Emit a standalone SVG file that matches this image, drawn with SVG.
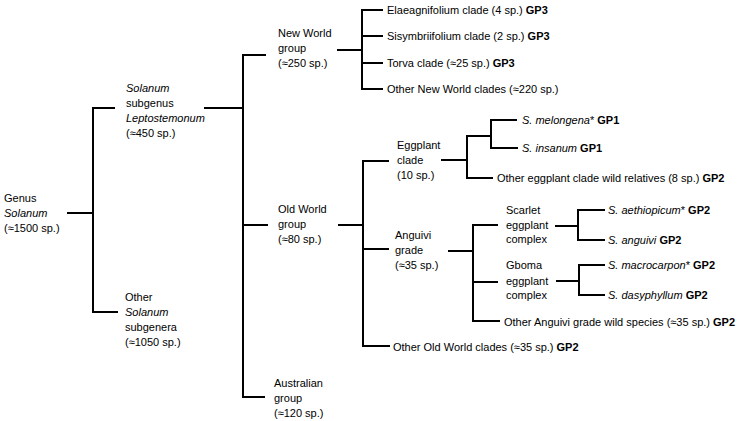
<svg xmlns="http://www.w3.org/2000/svg" width="743" height="421" viewBox="0 0 743 421">
<style>
text{font-family:"Liberation Sans",Arial,sans-serif;font-size:11px;fill:#000}
.i{font-style:italic}
.b{font-weight:bold}
.c{fill:none;stroke:#000;stroke-width:2}
</style>
<rect width="743" height="421" fill="#fff"/>
<g id="connectors" class="c">
<path d="M67 213H93M115 108H93V312H118"/>
<path d="M204 108H243M266 55H243V397H265M243 225H268"/>
<path d="M337 50H362M383 10H362V89H383M362 36H383M362 63H383"/>
<path d="M338 225H363M389 161H363V346H390M363 249H389"/>
<path d="M441 160H467M491 136H467V178H493M517 120H491V148H518"/>
<path d="M448 251H473M498 225H473V321H500M473 282H498"/>
<path d="M555 226H578M605 210H578V240H605"/>
<path d="M556 281H579M605 265H579V295H605"/>
</g>
<g id="genus"><text x="4" y="202">Genus</text><text x="4" y="217" class="i">Solanum</text><text x="4" y="232">(≈1500 sp.)</text></g>
<g id="leptostemonum"><text x="126" y="92" class="i">Solanum</text><text x="126" y="107">subgenus</text><text x="126" y="122" class="i">Leptostemonum</text><text x="126" y="137">(≈450 sp.)</text></g>
<g id="other-subgenera"><text x="125" y="301">Other</text><text x="125" y="316" class="i">Solanum</text><text x="125" y="331">subgenera</text><text x="125" y="346">(≈1050 sp.)</text></g>
<g id="new-world"><text x="278" y="37">New World</text><text x="278" y="52">group</text><text x="278" y="67">(≈250 sp.)</text></g>
<g id="old-world"><text x="278" y="213">Old World</text><text x="278" y="228">group</text><text x="278" y="243">(≈80 sp.)</text></g>
<g id="australian"><text x="274" y="387">Australian</text><text x="274" y="402">group</text><text x="274" y="417">(≈120 sp.)</text></g>
<g id="elaeagnifolium"><text x="387" y="14">Elaeagnifolium clade (4 sp.) <tspan class="b">GP3</tspan></text></g>
<g id="sisymbriifolium"><text x="387" y="40">Sisymbriifolium clade (2 sp.) <tspan class="b">GP3</tspan></text></g>
<g id="torva"><text x="387" y="67">Torva clade (≈25 sp.) <tspan class="b">GP3</tspan></text></g>
<g id="other-new-world"><text x="387" y="93">Other New World clades (≈220 sp.)</text></g>
<g id="eggplant-clade"><text x="397" y="149">Eggplant</text><text x="397" y="164">clade</text><text x="397" y="179">(10 sp.)</text></g>
<g id="anguivi-grade"><text x="395" y="239">Anguivi</text><text x="395" y="254">grade</text><text x="395" y="269">(≈35 sp.)</text></g>
<g id="melongena"><text x="522" y="124"><tspan class="i">S. melongena</tspan>* <tspan class="b">GP1</tspan></text></g>
<g id="insanum"><text x="522" y="152"><tspan class="i">S. insanum</tspan> <tspan class="b">GP1</tspan></text></g>
<g id="other-eggplant"><text x="497" y="182">Other eggplant clade wild relatives (8 sp.) <tspan class="b">GP2</tspan></text></g>
<g id="scarlet"><text x="506" y="214">Scarlet</text><text x="506" y="229">eggplant</text><text x="506" y="243">complex</text></g>
<g id="gboma"><text x="506" y="269">Gboma</text><text x="506" y="285">eggplant</text><text x="506" y="299">complex</text></g>
<g id="aethiopicum"><text x="608" y="214"><tspan class="i">S. aethiopicum</tspan>* <tspan class="b">GP2</tspan></text></g>
<g id="anguivi"><text x="608" y="244"><tspan class="i">S. anguivi</tspan> <tspan class="b">GP2</tspan></text></g>
<g id="macrocarpon"><text x="608" y="269"><tspan class="i">S. macrocarpon</tspan>* <tspan class="b">GP2</tspan></text></g>
<g id="dasyphyllum"><text x="608" y="299"><tspan class="i">S. dasyphyllum</tspan> <tspan class="b">GP2</tspan></text></g>
<g id="other-anguivi"><text x="504" y="326">Other Anguivi grade wild species (≈35 sp.) <tspan class="b">GP2</tspan></text></g>
<g id="other-old-world"><text x="393" y="351">Other Old World clades (≈35 sp.) <tspan class="b">GP2</tspan></text></g>
</svg>
